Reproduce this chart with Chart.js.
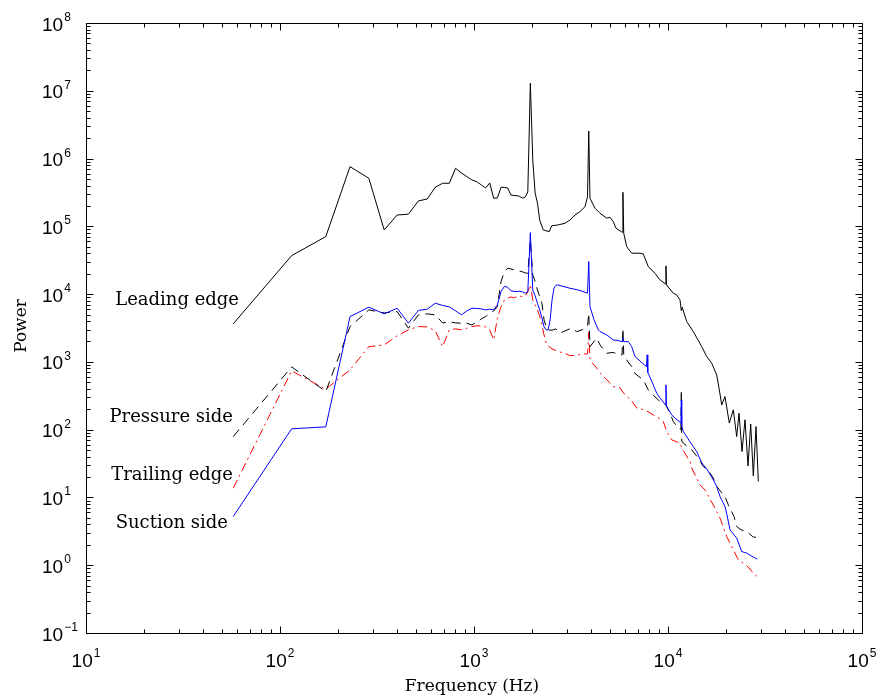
<!DOCTYPE html>
<html lang="en">
<head>
  <meta charset="UTF-8" />
  <title>Power spectra</title>
  <script src="https://cdn.jsdelivr.net/npm/chart.js"></script>
  <style>
    html, body { margin: 0; padding: 0; background: #fff; }
    #wrap { width: 879px; height: 699px; position: relative; }
  </style>
</head>
<body>
  <div id="wrap"><canvas id="spectrumChart"></canvas></div>

  <script>
    // frequencies in Hz, power values
    const leadingFreq = [
      57.4, 114.8, 172.2, 229.6, 287, 344.4, 401.8, 459.2, 516.6, 574,
      631.4, 688.8, 746.2, 803.6, 861, 918.4, 975.8, 1033, 1091, 1148,
      1205, 1263, 1320, 1378, 1435, 1492, 1550, 1607, 1665, 1722,
      1779, 1837, 1894, 1952, 2009, 2066, 2124, 2181, 2276, 2444,
      2515, 2720, 2945, 3125, 3316, 3519, 3735, 3847, 3904, 3961,
      4205, 4462, 4831, 5023, 5224, 5395, 5740, 5799, 5856, 5913,
      6124, 6501, 7174, 7459, 7914, 8570, 9095, 9703, 9760, 9818,
      10650, 11090, 11530, 11712, 11830, 12490, 13500, 14920, 15830, 16800,
      17820, 18390, 18920, 19670, 20700, 21710, 22600, 23230, 24070, 24940,
      25850, 26690, 27530, 28420, 29220
    ];
    const leadingPower = [
      3640, 37000, 70500, 760000, 512000, 88500, 147000, 151000, 237000, 253000,
      377000, 432000, 432000, 719000, 613000, 541000, 483000, 456000, 408000, 368000,
      437000, 260000, 262000, 377000, 375000, 368000, 290000, 285000, 283000, 276000,
      260000, 271000, 322000, 12900000, 954000, 308000, 221000, 124000, 88500, 83500,
      102000, 105000, 111000, 124000, 147000, 165000, 195000, 274000, 2550000, 260000,
      185000, 156000, 132000, 136000, 117000, 93800, 83500, 82000, 318000, 79100,
      50200, 40100, 40100, 39200, 25400, 20300, 16200, 14100, 26100, 13700,
      10300, 9730, 8200, 5700, 6400, 3930, 2800, 1680, 1200, 957,
      643, 386, 232, 308, 125, 196, 79, 175, 47.5, 140,
      29.2, 121, 20.8, 111, 17.2
    ];

    const pressureFreq = [
      57.4, 114.8, 172.2, 229.6, 287, 344.4, 401.8, 459.2, 516.6, 574,
      631.4, 688.8, 746.2, 803.6, 861, 918.4, 975.8, 1033, 1091, 1148,
      1205, 1263, 1320, 1378, 1435, 1492, 1550, 1607, 1665, 1722,
      1779, 1837, 1894, 1952, 2009, 2066, 2124, 2181, 2239, 2296,
      2354, 2411, 2526, 2640, 2776, 2945, 3188, 3383, 3604, 3847,
      3904, 3961, 4291, 4462, 4831, 5224, 5591, 5799, 5856, 5913,
      6220, 6501, 6625, 7005, 7459, 7914, 8469, 9095, 9650, 10240,
      10650, 11260, 11655, 11712, 11770, 11990, 13250, 14280, 15200, 16080,
      17120, 17820, 18760, 19670, 20460, 21890, 22600, 23790, 25450, 27530,
      28420
    ];
    const pressurePower = [
      79.1, 844, 365, 3320, 5850, 5280, 5520, 3140, 4940, 5110,
      4940, 3760, 3890, 3760, 3720, 3720, 3510, 3890, 4310, 4660,
      5230, 5650, 6540, 15300, 21300, 24100, 23500, 22800, 22200, 21800,
      21300, 20500, 20300, 63000, 19200, 15300, 11500, 9190, 7340, 4170,
      3320, 2970, 2930, 3070, 2650, 2870, 3140, 2800, 2970, 3320,
      5230, 1680, 2240, 1780, 1340, 1380, 1270, 1270, 3140, 1270,
      1000, 852, 712, 622, 543, 386, 315, 260, 246, 175,
      132, 106, 100, 386, 68, 63.2, 50.4, 38.4, 28.6, 25.5,
      19.3, 14.5, 12.1, 10.3, 7.78, 5.23, 3.72, 3.33, 3.14, 2.60,
      2.59
    ];

    const trailingFreq = [
      57.4, 114.8, 172.2, 229.6, 287, 344.4, 401.8, 459.2, 516.6, 574,
      631.4, 688.8, 746.2, 803.6, 861, 918.4, 975.8, 1033, 1091, 1148,
      1205, 1263, 1320, 1378, 1435, 1492, 1550, 1607, 1665, 1722,
      1779, 1837, 1894, 1952, 2009, 2066, 2124, 2181, 2239, 2296,
      2354, 2411, 2524, 2720, 2945, 3125, 3448, 3690, 3847, 3904,
      3961, 4291, 4552, 4849, 5224, 5656, 6004, 6447, 6898, 7609,
      8399, 9095, 9458, 9846, 10450, 11530, 11770, 12990, 13250, 14620,
      15510, 17470, 18540, 20070, 21710, 23040, 24440, 25850, 27530, 28860
    ];
    const trailingPower = [
      13.7, 735, 396, 762, 1680, 1780, 2420, 2970, 3320, 3280,
      2870, 1680, 2970, 3070, 2970, 3140, 3320, 3400, 3400, 3280,
      2970, 2110, 4410, 6540, 8210, 8700, 9090, 8790, 9190, 9410,
      9090, 9410, 10800, 13700, 8210, 6930, 5850, 4770, 3510, 2500,
      1890, 1720, 1560, 1420, 1340, 1230, 1270, 1310, 1310, 2770,
      1070, 807, 643, 543, 432, 413, 326, 275, 208, 196,
      165, 144, 132, 93.8, 70.7, 63.2, 53.4, 33.8, 27.1, 15.3,
      12.9, 6.95, 4.95, 2.65, 1.69, 1.20, 1.07, 0.947, 0.765, 0.681
    ];

    const suctionFreq = [
      57.4, 114.8, 172.2, 229.6, 287, 344.4, 401.8, 459.2, 516.6, 574,
      631.4, 688.8, 746.2, 803.6, 861, 918.4, 975.8, 1033, 1091, 1148,
      1205, 1263, 1320, 1378, 1435, 1492, 1550, 1607, 1665, 1722,
      1779, 1837, 1894, 1952, 2009, 2066, 2124, 2181, 2239, 2296,
      2354, 2411, 2468, 2526, 2583, 2640, 2698, 2876, 3125, 3356,
      3519, 3690, 3847, 3904, 3961, 4155, 4373, 4462, 4831, 5224,
      5460, 5799, 5856, 5913, 6243, 6501, 6761, 7174, 7750, 7808,
      7866, 8270, 8747, 9095, 9703, 9760, 9818, 10450, 11000, 11655,
      11712, 11770, 11990, 12990, 14060, 14920, 15830, 17120, 17820, 18540,
      19670, 20140, 20870, 22600, 23990, 25450, 27100, 28860
    ];
    const suctionPower = [
      5.23, 103, 110, 4660, 6410, 5110, 6190, 3720, 5750, 5990,
      7340, 6810, 6480, 5650, 4940, 5650, 6190, 6150, 6050, 5850,
      5990, 5850, 6930, 10900, 13000, 12600, 11200, 11000, 10900, 11000,
      10800, 10300, 10800, 80800, 11500, 9410, 7340, 5850, 4460, 3280,
      2970, 2970, 4170, 8210, 12200, 13400, 13700, 13000, 12200, 11700,
      11300, 10800, 10300, 30200, 6540, 4170, 2970, 2800, 2500, 2110,
      2080, 1990, 2240, 1990, 1990, 1680, 1200, 1030, 850, 1270,
      700, 507, 345, 294, 232, 458, 224, 165, 144, 126,
      275, 115, 94, 66.1, 47.5, 32.4, 26.4, 18.2, 14.5, 10.3,
      7.34, 5.54, 3.33, 2.51, 1.59, 1.51, 1.35, 1.23
    ];

    const xDecades = [1, 2, 3, 4, 5];
    const yDecades = [-1, 0, 1, 2, 3, 4, 5, 6, 7, 8];
    const seriesNames = ["Leading edge", "Pressure side", "Trailing edge", "Suction side"];

    const pairs = (f, p) => f.map((x, i) => ({ x: x, y: p[i] }));

    // box, inward ticks, 10^n labels, titles and curve names
    const frame = {
      id: "frame",
      afterDraw(chart) {
        const { ctx, chartArea: a, scales: { x, y } } = chart;
        ctx.save();
        ctx.strokeStyle = "#000";
        ctx.fillStyle = "#000";
        ctx.lineWidth = 1;
        const L = Math.round(a.left) + 0.5, R = Math.round(a.right) + 0.5;
        const T = Math.round(a.top) + 0.5, B = Math.round(a.bottom) + 0.5;
        ctx.strokeRect(L, T, R - L, B - T);

        ctx.beginPath();
        for (let d = 1; d <= 5; d++) {
          for (let m = 1; m <= 9; m++) {
            const v = m * Math.pow(10, d);
            if (v > 1e5 || (d === 5 && m > 1)) continue;
            const px = Math.round(x.getPixelForValue(v)) + 0.5;
            const len = m === 1 ? 7 : 4;
            ctx.moveTo(px, B); ctx.lineTo(px, B - len);
            ctx.moveTo(px, T); ctx.lineTo(px, T + len);
          }
        }
        for (let d = -1; d <= 8; d++) {
          for (let m = 1; m <= 9; m++) {
            if (d === 8 && m > 1) continue;
            const v = m * Math.pow(10, d);
            const py = Math.round(y.getPixelForValue(v)) + 0.5;
            const len = m === 1 ? 7 : 4;
            ctx.moveTo(L, py); ctx.lineTo(L + len, py);
            ctx.moveTo(R, py); ctx.lineTo(R - len, py);
          }
        }
        ctx.stroke();

        const baseFont = "19px 'Liberation Sans', Arial, sans-serif";
        const expFont = "12px 'Liberation Sans', Arial, sans-serif";
        const expText = d => (d < 0 ? "\u2212" + (-d) : String(d));
        ctx.textBaseline = "alphabetic";
        ctx.textAlign = "left";

        xDecades.forEach(d => {
          const px = x.getPixelForValue(Math.pow(10, d));
          ctx.font = baseFont;
          const w10 = ctx.measureText("10").width;
          ctx.font = expFont;
          const we = ctx.measureText(expText(d)).width;
          const start = px - (w10 + we + 1) / 2;
          ctx.font = baseFont;
          ctx.fillText("10", start, 667);
          ctx.font = expFont;
          ctx.fillText(expText(d), start + w10 + 1, 657);
        });

        yDecades.forEach(d => {
          const py = y.getPixelForValue(Math.pow(10, d));
          ctx.font = baseFont;
          const w10 = ctx.measureText("10").width;
          ctx.fillText("10", 42, py + 7.5);
          ctx.font = expFont;
          ctx.fillText(expText(d), 42 + w10 + 1, py - 2);
        });

        const serif = "17px 'DejaVu Serif', serif";
        ctx.font = serif;
        ctx.textAlign = "center";
        ctx.fillText("Frequency (Hz)", 472, 691);
        ctx.save();
        ctx.translate(26, 326);
        ctx.rotate(-Math.PI / 2);
        ctx.fillText("Power", 0, 0);
        ctx.restore();

        ctx.textAlign = "right";
        ctx.font = "18px 'DejaVu Serif', serif";
        const namePos = [[239, 305], [233, 422], [233, 480], [228, 528]];
        seriesNames.forEach((n, i) => ctx.fillText(n, namePos[i][0], namePos[i][1]));
        ctx.restore();
      }
    };

    const ctx = document.getElementById("spectrumChart").getContext("2d");
    new Chart(ctx, {
      type: "line",
      data: {
        datasets: [
          {
            label: seriesNames[3],
            data: pairs(suctionFreq, suctionPower),
            borderColor: "#0000ff",
            borderWidth: 1
          },
          {
            label: seriesNames[0],
            data: pairs(leadingFreq, leadingPower),
            borderColor: "#000000",
            borderWidth: 1
          },
          {
            label: seriesNames[1],
            data: pairs(pressureFreq, pressurePower),
            borderColor: "#000000",
            borderWidth: 1,
            borderDash: [9, 6]
          },
          {
            label: seriesNames[2],
            data: pairs(trailingFreq, trailingPower),
            borderColor: "#ff0000",
            borderWidth: 1,
            borderDash: [9, 4, 2, 4]
          }
        ]
      },
      options: {
        responsive: true,
        maintainAspectRatio: false,
        animation: false,
        layout: { padding: { left: 86, top: 23, right: 17, bottom: 66 } },
        elements: {
          point: { radius: 0 },
          line: { tension: 0, fill: false }
        },
        scales: {
          x: { type: "logarithmic", min: 10, max: 1e5, display: false },
          y: { type: "logarithmic", min: 0.1, max: 1e8, display: false }
        },
        plugins: {
          legend: { display: false },
          tooltip: { enabled: false }
        }
      },
      plugins: [frame]
    });
  </script>
</body>
</html>
